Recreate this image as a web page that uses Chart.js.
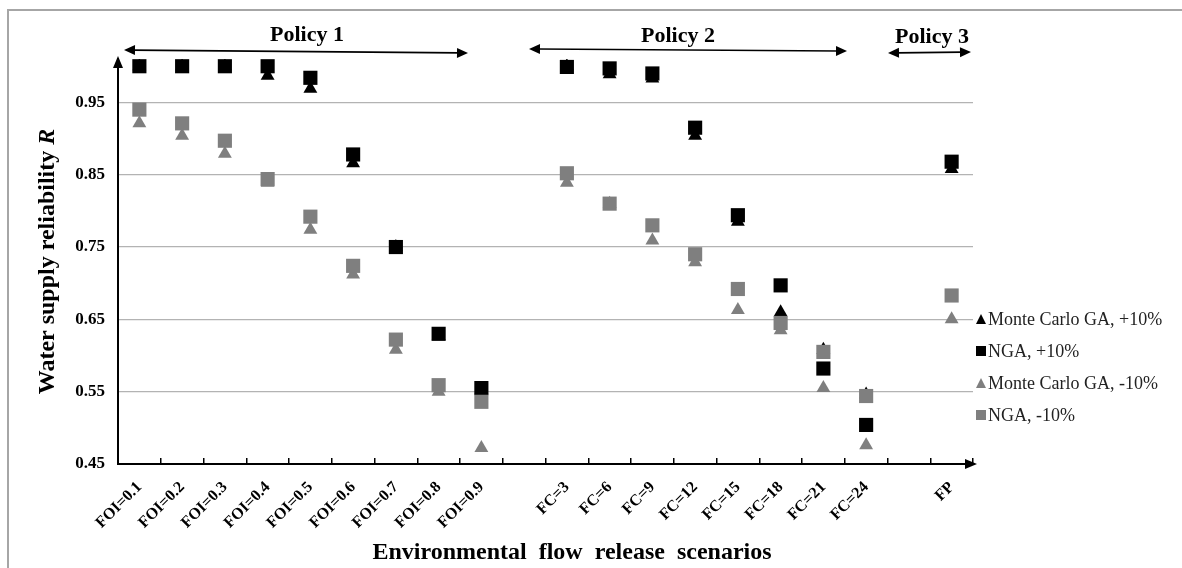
<!DOCTYPE html>
<html>
<head>
<meta charset="utf-8">
<script src="https://cdn.jsdelivr.net/npm/chart.js@4.4.0/dist/chart.umd.min.js"></script>
<style>
  html, body { margin: 0; padding: 0; background: #fff; overflow: hidden; }
  #wrap { position: relative; width: 1182px; height: 568px; }
  #frame { position: absolute; left: 7px; top: 9px; width: 1300px; height: 700px; border: 2px solid #a6a6a6; box-sizing: border-box; }
  #legend { position: absolute; left: 976px; top: 303px; font-family: 'Liberation Serif', 'Times New Roman', serif; font-size: 18px; color: #222; }
  #legend .row { height: 32px; display: flex; align-items: center; white-space: nowrap; }
  #legend .tri { width: 0; height: 0; border-left: 5px solid transparent; border-right: 5px solid transparent; border-bottom: 10px solid #000; margin-right: 2px; }
  #legend .sq { width: 10px; height: 10px; background: #000; margin-right: 2px; }
</style>
</head>
<body>
<div id="wrap">
  <div id="frame"></div>
  <canvas id="myChart" width="1182" height="568"></canvas>
  <div id="legend"></div>
</div>
<script>
  // scenarios (empty strings are the gaps between the policies)
  const categories = ['FOI=0.1', 'FOI=0.2', 'FOI=0.3', 'FOI=0.4', 'FOI=0.5', 'FOI=0.6', 'FOI=0.7', 'FOI=0.8', 'FOI=0.9', '',
    'FC=3', 'FC=6', 'FC=9', 'FC=12', 'FC=15', 'FC=18', 'FC=21', 'FC=24', '', 'FP'];

  const mcPlus10  = [1.000, 1.000, 1.000, 0.987, 0.969, 0.866, 0.750, 0.627, 0.553, null, 1.000, 0.989, 0.983, 0.904, 0.785, 0.660, 0.608, 0.546, null, 0.858];
  const ngaPlus10 = [1.000, 1.000, 1.000, 1.000, 0.984, 0.878, 0.750, 0.630, 0.555, null, 0.999, 0.997, 0.990, 0.915, 0.794, 0.697, 0.582, 0.504, null, 0.868];
  const mcMinus10 = [0.921, 0.904, 0.879, 0.839, 0.774, 0.712, 0.608, 0.550, 0.472, null, 0.839, 0.810, 0.759, 0.729, 0.663, 0.635, 0.555, 0.476, null, 0.650];
  const ngaMinus10 = [0.940, 0.921, 0.897, 0.844, 0.792, 0.724, 0.622, 0.559, 0.536, null, 0.852, 0.810, 0.780, 0.740, 0.692, 0.645, 0.605, 0.544, null, 0.683];

  const yTicks = [0.45, 0.55, 0.65, 0.75, 0.85, 0.95];

  const seriesNames = ['Monte Carlo GA, +10%', 'NGA, +10%', 'Monte Carlo GA, -10%', 'NGA, -10%'];

  const serif = "'Liberation Serif', 'Times New Roman', serif";
  const grey = '#7f7f7f';

  function drawArrow(ctx, x1, y1, x2, y2) {
    const head = 11, half = 5;
    const a = Math.atan2(y2 - y1, x2 - x1);
    ctx.beginPath();
    ctx.moveTo(x1 + Math.cos(a) * head * 0.8, y1 + Math.sin(a) * head * 0.8);
    ctx.lineTo(x2 - Math.cos(a) * head * 0.8, y2 - Math.sin(a) * head * 0.8);
    ctx.stroke();
    [[x1, y1, a + Math.PI], [x2, y2, a]].forEach(([x, y, t]) => {
      ctx.beginPath();
      ctx.moveTo(x, y);
      ctx.lineTo(x - Math.cos(t) * head - Math.sin(t) * half, y - Math.sin(t) * head + Math.cos(t) * half);
      ctx.lineTo(x - Math.cos(t) * head + Math.sin(t) * half, y - Math.sin(t) * head - Math.cos(t) * half);
      ctx.closePath();
      ctx.fill();
    });
  }

  // axis arrows, policy bands, axis titles
  const decorations = {
    id: 'decorations',
    afterDraw(chart) {
      const ctx = chart.ctx;
      const area = chart.chartArea;
      ctx.save();
      ctx.fillStyle = '#000';
      ctx.strokeStyle = '#000';

      // axis arrow heads
      ctx.beginPath();
      ctx.moveTo(area.left, area.top - 3);
      ctx.lineTo(area.left - 5, area.top + 9);
      ctx.lineTo(area.left + 5, area.top + 9);
      ctx.closePath();
      ctx.fill();
      ctx.beginPath();
      ctx.moveTo(area.right + 4, area.bottom);
      ctx.lineTo(area.right - 8, area.bottom - 5);
      ctx.lineTo(area.right - 8, area.bottom + 5);
      ctx.closePath();
      ctx.fill();

      // policies
      ctx.lineWidth = 1.6;
      drawArrow(ctx, 124, 50, 468, 53);
      drawArrow(ctx, 529, 49, 847, 51);
      drawArrow(ctx, 888, 53, 971, 52);
      ctx.font = 'bold 22px ' + serif;
      ctx.textAlign = 'center';
      ctx.textBaseline = 'middle';
      ctx.fillText('Policy 1', 307, 35);
      ctx.fillText('Policy 2', 678, 36);
      ctx.fillText('Policy 3', 932, 37);

      // x title
      ctx.font = 'bold 24px ' + serif;
      ctx.fillText('Environmental  flow  release  scenarios', 572, 553);

      // y title with italic R
      ctx.translate(48, (area.top + area.bottom) / 2);
      ctx.rotate(-Math.PI / 2);
      const part1 = 'Water supply reliability ';
      ctx.font = 'bold 24px ' + serif;
      const w1 = ctx.measureText(part1).width;
      ctx.font = 'italic bold 24px ' + serif;
      const w2 = ctx.measureText('R').width;
      ctx.textAlign = 'left';
      ctx.font = 'bold 24px ' + serif;
      ctx.fillText(part1, -(w1 + w2) / 2, 0);
      ctx.font = 'italic bold 24px ' + serif;
      ctx.fillText('R', -(w1 + w2) / 2 + w1, 0);
      ctx.restore();
    }
  };

  const ctx = document.getElementById('myChart');

  new Chart(ctx, {
    type: 'line',
    data: {
      labels: categories,
      datasets: [
        {
          label: seriesNames[0],
          data: mcPlus10,
          pointStyle: 'triangle',
          pointRadius: 8,
          backgroundColor: '#000',
          borderWidth: 0,
          order: 4
        },
        {
          label: seriesNames[1],
          data: ngaPlus10,
          pointStyle: 'rect',
          pointRadius: 10,
          backgroundColor: '#000',
          borderWidth: 0,
          order: 3
        },
        {
          label: seriesNames[2],
          data: mcMinus10,
          pointStyle: 'triangle',
          pointRadius: 8,
          backgroundColor: grey,
          borderWidth: 0,
          order: 2
        },
        {
          label: seriesNames[3],
          data: ngaMinus10,
          pointStyle: 'rect',
          pointRadius: 10,
          backgroundColor: grey,
          borderWidth: 0,
          order: 1
        }
      ]
    },
    options: {
      responsive: false,
      animation: false,
      events: [],
      showLine: false,
      layout: { padding: { left: 0, top: 59, right: 209, bottom: 0 } },
      plugins: { legend: { display: false }, tooltip: { enabled: false } },
      scales: {
        x: {
          type: 'category',
          offset: true,
          grid: { offset: true, drawOnChartArea: false, drawTicks: true, tickLength: -6, color: '#000', lineWidth: 1.5 },
          border: { color: '#000', width: 2 },
          ticks: {
            autoSkip: false,
            maxRotation: 45,
            minRotation: 45,
            padding: 20,
            color: '#000',
            font: { family: serif, size: 16, weight: 'bold' }
          },
          afterFit: s => { s.height = 104; }
        },
        y: {
          min: 0.45,
          max: 1.01,
          afterBuildTicks: s => { s.ticks = yTicks.map(v => ({ value: v })); },
          grid: { color: '#b3b3b3', lineWidth: 1.3, drawTicks: false },
          border: { color: '#000', width: 2 },
          ticks: {
            padding: 13,
            color: '#000',
            font: { family: serif, size: 17, weight: 'bold' },
            callback: v => v.toFixed(2)
          },
          afterFit: s => { s.width = 118; }
        }
      }
    },
    plugins: [decorations]
  });

  // legend
  const legendEl = document.getElementById('legend');
  const markers = [['tri', '#000'], ['sq', '#000'], ['tri', grey], ['sq', grey]];
  seriesNames.forEach((name, i) => {
    const row = document.createElement('div');
    row.className = 'row';
    const m = document.createElement('span');
    m.className = markers[i][0];
    if (markers[i][0] === 'tri') m.style.borderBottomColor = markers[i][1];
    else m.style.background = markers[i][1];
    const t = document.createElement('span');
    t.textContent = name;
    row.appendChild(m);
    row.appendChild(t);
    legendEl.appendChild(row);
  });
</script>
</body>
</html>
